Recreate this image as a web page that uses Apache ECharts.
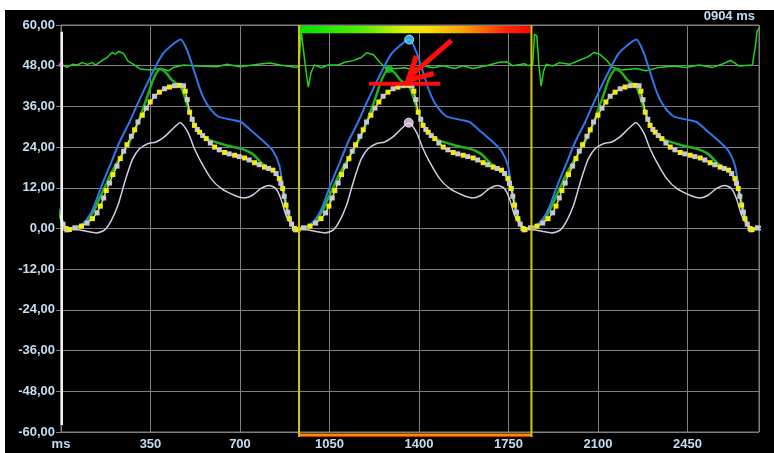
<!DOCTYPE html>
<html><head><meta charset="utf-8">
<script src="https://cdn.jsdelivr.net/npm/echarts@6/dist/echarts.min.js"></script>
<style>
html,body{margin:0;padding:0;background:#fff;width:774px;height:453px;overflow:hidden}
#c{position:absolute;left:5px;top:10px;width:769px;height:443px;background:#000}
</style>
</head><body><div id="c"></div>
<script>
// ---- data (ms within a heart cycle / value) ----
const cycleStarts = [-861, 33, 927, 1815, 2703];
const blueT = [0,14,53,79,98,117,137,164,196,235,267,306,339,365,398,435,463,489,515,541,580,632,671,710,762,795,821,834,853,873,884];
const blueV = [-0.3,0,1.5,3.9,6.9,10.8,14.7,19.6,25.5,31.4,36.8,43.1,48,51.5,53.9,55.7,52,46.1,40.2,36.3,33.1,32.1,31.4,28.9,25.5,23,18.6,12.7,5.9,1,-0.4];
const greenT = [0,14,53,79,98,117,137,164,196,235,267,306,331,356,379,398,437,456,469,495,541,619,677,716,749,775,795,821,834,847,860,880,884];
const greenV = [-0.3,0,1.2,3.1,5.6,8.8,12,16.4,20.6,25.6,31,39.2,44.5,47,45.8,44,41.5,37.5,34.5,29.8,26.4,24.4,23.4,22,19.5,18,17.2,14.7,11.8,6.9,2.9,0,-0.3];
const yellowT = [0,21,47,69,90,108,121,134,144,157,170,186,199,212,225,242,255,268,285,301,316,333,352,372,391,411,430,446,453,461,470,480,489,500,509,521,535,551,568,586,607,625,646,664,685,703,724,742,763,779,796,808,821,827,834,840,847,854,860,869,880,884];
const yellowV = [-0.3,0.2,0.7,1.6,2.9,4.6,6.6,9,11.2,13.4,15.9,18.4,20.6,22.8,24.7,27.2,29.1,31.4,33.4,35.5,37.3,39,40.2,41.2,41.7,42.1,42.2,42.1,40.5,38,34.3,32.2,30.4,29.2,28.4,27.4,26.5,25.2,24,23.2,22.4,22,21.6,21.2,20.8,20.2,19.4,18.8,18.1,17.7,17.2,16.2,14.7,13.3,11.8,9.5,6.9,4.8,2.9,1.3,0,-0.4];
const lavT = [0,27,66,105,137,164,190,209,229,248,274,306,339,371,404,433,463,489,515,554,593,645,684,716,749,781,807,827,847,873,884];
const lavV = [-0.3,-0.3,-0.8,-1.3,-0.5,2.4,6.9,11.8,16.7,20.6,23.5,25,25.5,27,29.4,31.2,28.4,23.5,19.6,14.7,11.8,9.8,9,9.8,11.8,12.7,11.8,8.8,3.9,0.5,-0.3];
const ecgT = [0,24,44,63,83,102,122,135,161,180,200,213,226,245,261,284,310,349,388,421,440,479,532,610,649,701,779,818,857,922,931,939,944,954,967,978,991,1019,1045,1084,1110,1143,1176,1195,1221,1247,1269,1306,1345,1371,1416,1455,1494,1540,1572,1611,1663,1715,1742,1767,1813,1826,1845,1852,1861,1869,1878,1887,1898,1923,1950,1989,2028,2060,2086,2106,2134,2158,2197,2249,2288,2340,2392,2444,2496,2548,2587,2620,2652,2704,2715,2723,2730];
const ecgV = [48.3,47.5,48.4,48.2,48.9,48.4,48.9,48.2,49.6,50.4,51.9,51.4,52.2,51.6,49.4,48.4,47,46.7,47.2,46.5,47.5,48.2,47.9,47.7,48.4,47.7,48.5,48.8,48.2,47.5,48,58.5,58.5,49,41.7,46,48.2,47.4,48.2,48.2,49,49.5,50.5,51.8,51.3,49,47.4,47.1,47.4,46.8,48,47.4,48,47.2,48,47.2,48,49,49.2,48,48.6,48,48.4,57.3,56.8,48.4,42,46.3,48.4,47.9,48.9,48.4,49.6,50.6,51.9,51.4,49.6,47.5,46.7,47.2,46.5,47.5,47.9,47.5,48.2,47.5,48.5,49.6,47.9,48.2,53.3,58.2,59];
const xRange = [0, 2730];
const xTickStep = 350;
const xFirstLabel = 'ms';
const yRange = [-60, 60];
const yTickStep = 12;
const windowRange = [931, 1840];
const selectedCycle = 2;
const cycleLabel = '0904 ms';
const redBar = [[1205, 42.7], [1484, 42.7]];
const arrowShaft = [[1527, 55.5], [1362, 44.6]];
const arrowHead = [[1390, 50.9], [1357, 43.7], [1458, 45.7]];
const gradientBarVals = [59.7, 57.6];
const leftBarVals = [58, -57.9];

// ---- helpers ----
function build(T, V) {
  const out = [];
  cycleStarts.forEach(s => T.forEach((t, i) => out.push([s + t, V[i]])));
  return out;
}
function peak(T, V) {
  let k = 0;
  V.forEach((v, i) => { if (v > V[k]) k = i; });
  return [cycleStarts[selectedCycle] + T[k], V[k]];
}
const yellowData = build(yellowT, yellowV).map((p, i) => ({
  value: p, itemStyle: { color: i % 2 ? '#c9c6d6' : '#f2ea12' }
}));
const txt = '#c4ddf0';
const gridCol = '#808080';
const font = 'Liberation Sans, Arial';

const chart = echarts.init(document.getElementById('c'));
chart.setOption({
  animation: false,
  backgroundColor: '#000',
  title: { text: cycleLabel, right: 19, top: 0, padding: 0,
    textStyle: { color: txt, fontSize: 13, fontWeight: 'bold', fontFamily: font } },
  grid: { left: 56, top: 15, right: 15, bottom: 21, show: true, borderColor: gridCol, borderWidth: 1 },
  xAxis: {
    type: 'value', min: xRange[0], max: xRange[1], interval: xTickStep,
    axisLine: { lineStyle: { color: gridCol } },
    axisTick: { show: true, length: 3, lineStyle: { color: gridCol } },
    splitLine: { show: true, lineStyle: { color: gridCol, width: 1 } },
    axisLabel: { color: txt, fontSize: 13, fontWeight: 'bold', fontFamily: font, margin: 6,
      showMinLabel: true, showMaxLabel: false, hideOverlap: false,
      formatter: v => v === xRange[0] ? xFirstLabel : (v % xTickStep === 0 ? String(v) : '') }
  },
  yAxis: {
    type: 'value', min: yRange[0], max: yRange[1], interval: yTickStep,
    axisLine: { show: true, lineStyle: { color: gridCol } },
    axisTick: { show: true, length: 5, lineStyle: { color: gridCol } },
    splitLine: { show: true, lineStyle: { color: gridCol, width: 1 } },
    axisLabel: { color: txt, fontSize: 13, fontWeight: 'bold', fontFamily: font, margin: 6,
      formatter: v => v.toFixed(2).replace('.', ',') }
  },
  series: [
    { type: 'line', data: ecgT.map((t, i) => [t, ecgV[i]]), symbol: 'none',
      lineStyle: { color: '#22d322', width: 1.5 }, z: 2 },
    { type: 'line', data: build(lavT, lavV), symbol: 'none', smooth: 0.25,
      lineStyle: { color: '#cfcce4', width: 1.5 }, z: 3 },
    { type: 'line', data: build(greenT, greenV), symbol: 'none', smooth: 0.25,
      lineStyle: { color: '#1fb41f', width: 2.5 }, z: 4 },
    { type: 'line', data: build(blueT, blueV), symbol: 'none', smooth: 0.25,
      lineStyle: { color: '#2f78ea', width: 2 }, z: 5 },
    { type: 'line', data: yellowData, symbol: 'rect', symbolSize: 5, showSymbol: true,
      lineStyle: { color: '#e4de50', width: 1.5 }, z: 6 },
    { type: 'scatter', z: 8, data: [
      { value: peak(blueT, blueV), symbolSize: 9, itemStyle: { color: '#3cd2ff', borderColor: '#d8f6ff', borderWidth: 1 } },
      { value: peak(greenT, greenV), symbolSize: 8, itemStyle: { color: '#22c422' } },
      { value: peak(lavT, lavV), symbolSize: 9, itemStyle: { color: '#f2d2f2', borderColor: '#ffffff', borderWidth: 1 } },
      { value: [ecgT[0], ecgV[0]], symbolSize: 5, itemStyle: { color: '#ff40ff' } }
    ] },
    { type: 'line', data: redBar, symbol: 'none', lineStyle: { color: '#ff0d0d', width: 4 }, z: 20 },
    { type: 'line', data: arrowShaft, symbol: 'none', lineStyle: { color: '#ff0d0d', width: 5 }, z: 20 },
    { type: 'line', data: arrowHead, symbol: 'none', lineStyle: { color: '#ff0d0d', width: 5, join: 'miter' }, z: 20 }
  ]
});

const px = (x, y) => chart.convertToPixel({ gridIndex: 0 }, [x, y]);
const [xl, yt] = px(windowRange[0], yRange[1]);
const [xr, yb] = px(windowRange[1], yRange[0]);
const gTop = px(0, gradientBarVals[0])[1], gBot = px(0, gradientBarVals[1])[1];
const x0 = px(xRange[0], 0)[0];
const lTop = px(0, leftBarVals[0])[1], lBot = px(0, leftBarVals[1])[1];
chart.setOption({ graphic: [
  { type: 'rect', z: 50, shape: { x: xl + 1, y: gTop, width: xr - xl - 2, height: gBot - gTop },
    style: { fill: { type: 'linear', x: 0, y: 0, x2: 1, y2: 0, colorStops: [
      { offset: 0, color: '#00e400' }, { offset: 0.28, color: '#58ee00' },
      { offset: 0.45, color: '#dcf000' }, { offset: 0.55, color: '#f8e000' },
      { offset: 0.72, color: '#ff9a00' }, { offset: 0.88, color: '#ff3000' },
      { offset: 1, color: '#ff0000' } ] } } },
  { type: 'line', z: 50, shape: { x1: xl, y1: yt, x2: xl, y2: yb + 5 }, style: { stroke: '#d2ca00', lineWidth: 2 } },
  { type: 'line', z: 50, shape: { x1: xr, y1: yt, x2: xr, y2: yb + 5 }, style: { stroke: '#d2ca00', lineWidth: 2 } },
  { type: 'rect', z: 49, shape: { x: xl, y: yb + 1.5, width: xr - xl, height: 2.5 }, style: { fill: '#ff8a00' } },
  { type: 'rect', z: 49, shape: { x: xl, y: yb + 4, width: xr - xl, height: 1 }, style: { fill: '#e02a00' } },
  { type: 'rect', z: 50, shape: { x: x0 - 0.5, y: lTop, width: 2.5, height: lBot - lTop }, style: { fill: '#f2f2f2' } }
] });
</script>
</body></html>
